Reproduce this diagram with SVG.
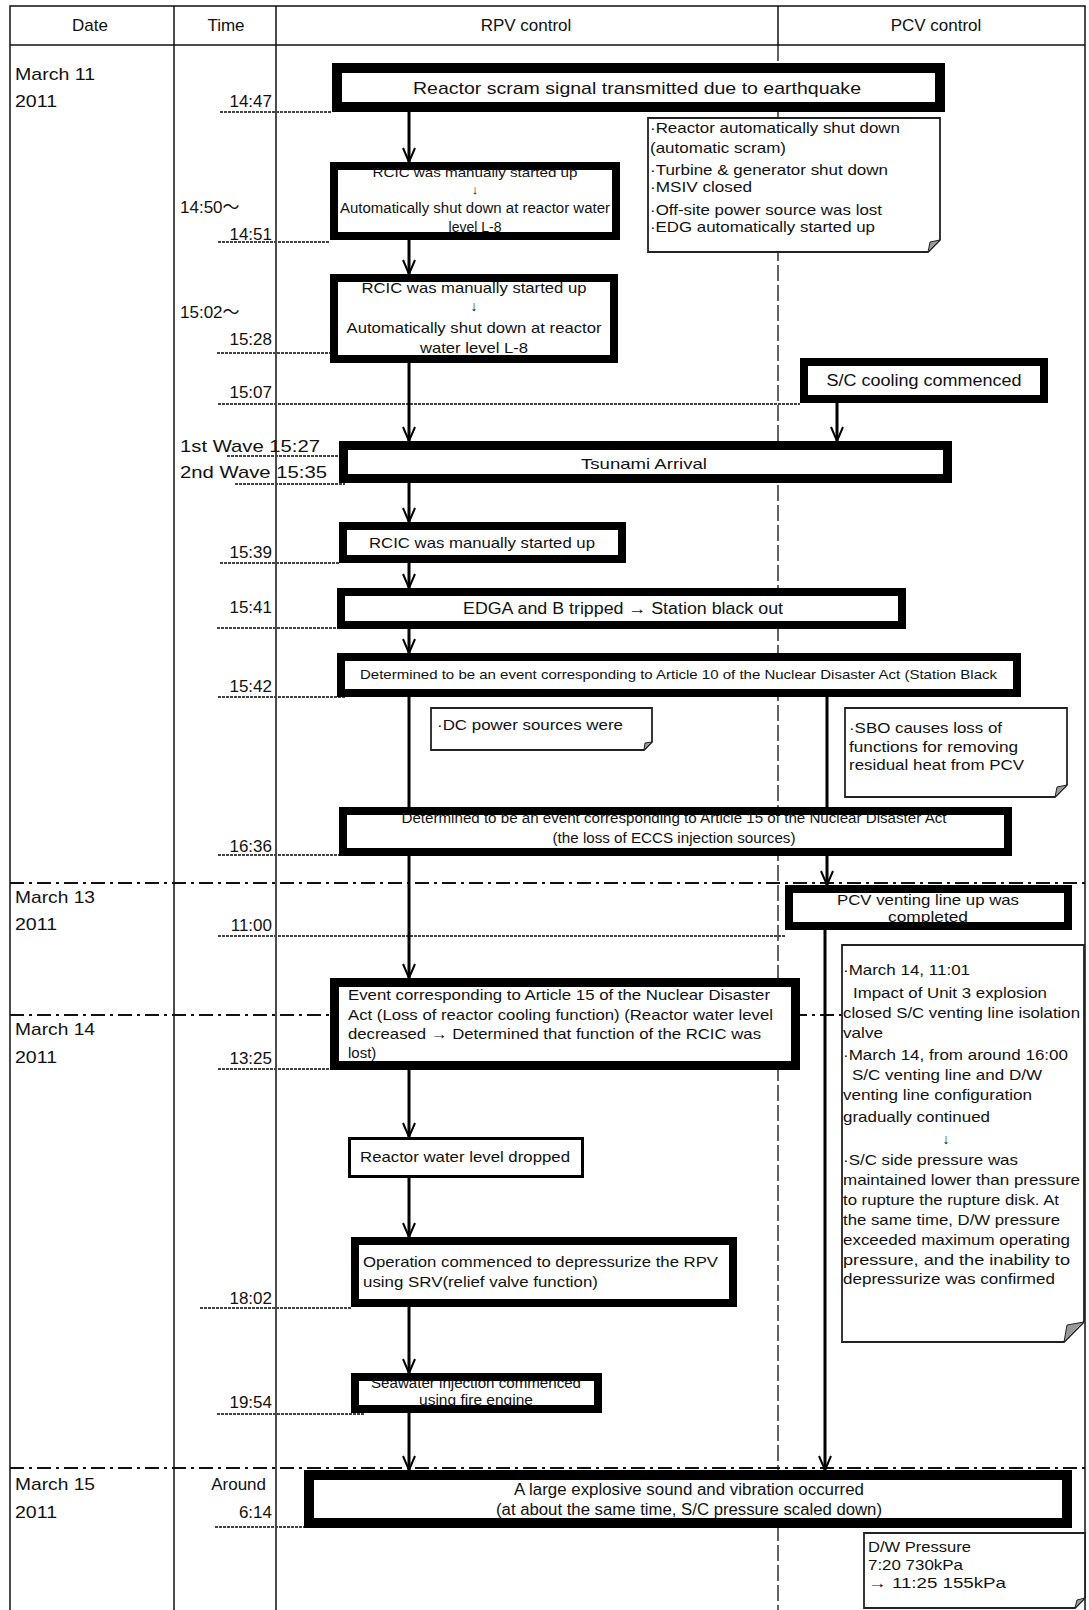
<svg xmlns="http://www.w3.org/2000/svg" width="1089" height="1610" viewBox="0 0 1089 1610">
<style>
text{font-family:"Liberation Sans",Arial,"Noto Sans CJK JP",sans-serif;fill:#111}
.grid{stroke:#111;stroke-width:1.5;fill:none}
.div{stroke:#111;stroke-width:1.3;stroke-dasharray:16 4;fill:none}
.day{stroke:#111;stroke-width:2;stroke-dasharray:14 5 3 5;fill:none}
.ul{stroke:#444;stroke-width:2.2;stroke-dasharray:3 1;fill:none}
.box{fill:#fff;stroke:#000}
.note{fill:#fff;stroke:#222;stroke-width:1.8}
.curl{fill:#999;stroke:#222;stroke-width:1}
.arr{stroke:#000;stroke-width:3;fill:none}
.ln{stroke:#000;stroke-width:3;fill:none}
.c{text-anchor:middle}
.e{text-anchor:end}
.h{font-size:17px}
.tm{font-size:17px}
.s13{font-size:13px}
.s14{font-size:14px}
.s15{font-size:15px}
.s16{font-size:16px}
.s17{font-size:17px}
</style>
<defs>
<marker id="ah" viewBox="-16 -9 18 18" refX="0" refY="0" markerWidth="18" markerHeight="18" markerUnits="userSpaceOnUse" orient="auto" overflow="visible">
<path d="M-14,-6 L0,0 L-14,6" fill="none" stroke="#000" stroke-width="2"/>
</marker>
</defs>

<g id="table">
<rect x="10" y="6" width="1075" height="1610" class="grid"/>
<line x1="10" y1="45" x2="1085" y2="45" class="grid"/>
<line x1="174" y1="6" x2="174" y2="1610" class="grid"/>
<line x1="276" y1="6" x2="276" y2="1610" class="grid"/>
<line x1="778" y1="6" x2="778" y2="45" class="grid"/>
<line x1="778" y1="45" x2="778" y2="1610" class="div"/>
<line x1="10" y1="883" x2="1085" y2="883" class="day"/>
<line x1="10" y1="1015" x2="1085" y2="1015" class="day"/>
<line x1="10" y1="1468" x2="1085" y2="1468" class="day"/>
<text x="90" y="31" class="h c">Date</text>
<text x="226" y="31" class="h c">Time</text>
<text x="526" y="31" class="h c">RPV control</text>
<text x="936" y="31" class="h c">PCV control</text>
</g>

<g id="dates">
<text x="15" y="80" class="s17" textLength="80" lengthAdjust="spacingAndGlyphs">March 11</text>
<text x="15" y="107" class="s17" textLength="42" lengthAdjust="spacingAndGlyphs">2011</text>
<text x="15" y="903" class="s17" textLength="80" lengthAdjust="spacingAndGlyphs">March 13</text>
<text x="15" y="930" class="s17" textLength="42" lengthAdjust="spacingAndGlyphs">2011</text>
<text x="15" y="1035" class="s17" textLength="80" lengthAdjust="spacingAndGlyphs">March 14</text>
<text x="15" y="1063" class="s17" textLength="42" lengthAdjust="spacingAndGlyphs">2011</text>
<text x="15" y="1490" class="s17" textLength="80" lengthAdjust="spacingAndGlyphs">March 15</text>
<text x="15" y="1518" class="s17" textLength="42" lengthAdjust="spacingAndGlyphs">2011</text>
</g>

<g id="times">
<line x1="220" y1="112" x2="332" y2="112" class="ul"/>
<line x1="218" y1="242" x2="330" y2="242" class="ul"/>
<line x1="217" y1="353" x2="330" y2="353" class="ul"/>
<line x1="218" y1="404" x2="800" y2="404" class="ul"/>
<line x1="227" y1="456" x2="339" y2="456" class="ul"/>
<line x1="235" y1="484" x2="345" y2="484" class="ul"/>
<line x1="220" y1="563" x2="339" y2="563" class="ul"/>
<line x1="217" y1="628" x2="337" y2="628" class="ul"/>
<line x1="218" y1="697" x2="345" y2="697" class="ul"/>
<line x1="218" y1="855" x2="345" y2="855" class="ul"/>
<line x1="218" y1="936" x2="785" y2="936" class="ul"/>
<line x1="218" y1="1069" x2="330" y2="1069" class="ul"/>
<line x1="200" y1="1308" x2="351" y2="1308" class="ul"/>
<line x1="217" y1="1414" x2="365" y2="1414" class="ul"/>
<line x1="215" y1="1527" x2="304" y2="1527" class="ul"/>
<text x="272" y="107" class="tm e">14:47</text>
<text x="180" y="213" class="tm">14:50～</text>
<text x="272" y="240" class="tm e">14:51</text>
<text x="180" y="318" class="tm">15:02～</text>
<text x="272" y="345" class="tm e">15:28</text>
<text x="272" y="398" class="tm e">15:07</text>
<text x="180" y="452" class="tm" textLength="140" lengthAdjust="spacingAndGlyphs">1st Wave 15:27</text>
<text x="180" y="478" class="tm" textLength="147" lengthAdjust="spacingAndGlyphs">2nd Wave 15:35</text>
<text x="272" y="558" class="tm e">15:39</text>
<text x="272" y="613" class="tm e">15:41</text>
<text x="272" y="692" class="tm e">15:42</text>
<text x="272" y="852" class="tm e">16:36</text>
<text x="272" y="931" class="tm e">11:00</text>
<text x="272" y="1064" class="tm e">13:25</text>
<text x="272" y="1304" class="tm e">18:02</text>
<text x="272" y="1408" class="tm e">19:54</text>
<text x="266" y="1490" class="tm e">Around</text>
<text x="272" y="1518" class="tm e">6:14</text>
</g>

<g id="connectors">
<line x1="409" y1="112" x2="409" y2="162" class="arr" marker-end="url(#ah)"/>
<line x1="409" y1="240" x2="409" y2="274" class="arr" marker-end="url(#ah)"/>
<line x1="409" y1="363" x2="409" y2="441" class="arr" marker-end="url(#ah)"/>
<line x1="409" y1="483" x2="409" y2="522" class="arr" marker-end="url(#ah)"/>
<line x1="409" y1="563" x2="409" y2="588" class="arr" marker-end="url(#ah)"/>
<line x1="409" y1="629" x2="409" y2="653" class="arr" marker-end="url(#ah)"/>
<line x1="409" y1="697" x2="409" y2="807" class="ln"/>
<line x1="409" y1="856" x2="409" y2="978" class="arr" marker-end="url(#ah)"/>
<line x1="409" y1="1070" x2="409" y2="1137" class="arr" marker-end="url(#ah)"/>
<line x1="409" y1="1178" x2="409" y2="1237" class="arr" marker-end="url(#ah)"/>
<line x1="409" y1="1307" x2="409" y2="1373" class="arr" marker-end="url(#ah)"/>
<line x1="409" y1="1413" x2="409" y2="1470" class="arr" marker-end="url(#ah)"/>
<line x1="837" y1="403" x2="837" y2="441" class="arr" marker-end="url(#ah)"/>
<line x1="827" y1="697" x2="827" y2="885" class="arr" marker-end="url(#ah)"/>
<line x1="825" y1="930" x2="825" y2="1470" class="arr" stroke-width="4" marker-end="url(#ah)"/>
</g>

<g id="n-scram">
<rect x="337" y="68" width="603" height="39" class="box" stroke-width="10"/>
<text x="637" y="94" class="s17 c" textLength="448" lengthAdjust="spacingAndGlyphs">Reactor scram signal transmitted due to earthquake</text>
</g>

<g id="n-note1">
<path d="M648,118 H940 V240 L928,252 H648 Z" class="note"/>
<path d="M940,240 L928,252 L930,242 Z" class="curl"/>
<text x="650" y="133" class="s15" textLength="250" lengthAdjust="spacingAndGlyphs">·Reactor automatically shut down</text>
<text x="650" y="153" class="s15" textLength="136" lengthAdjust="spacingAndGlyphs">(automatic scram)</text>
<text x="650" y="175" class="s15" textLength="238" lengthAdjust="spacingAndGlyphs">·Turbine &amp; generator shut down</text>
<text x="650" y="192" class="s15" textLength="102" lengthAdjust="spacingAndGlyphs">·MSIV closed</text>
<text x="650" y="215" class="s15" textLength="232" lengthAdjust="spacingAndGlyphs">·Off-site power source was lost</text>
<text x="650" y="232" class="s15" textLength="225" lengthAdjust="spacingAndGlyphs">·EDG automatically started up</text>
</g>

<g id="n-rcic1">
<rect x="334" y="166" width="282" height="70" class="box" stroke-width="8"/>
<text x="475" y="177" class="s13 c" textLength="205" lengthAdjust="spacingAndGlyphs">RCIC was manually started up</text>
<text x="475" y="194" class="s13 c">↓</text>
<text x="475" y="213" class="s14 c" textLength="270" lengthAdjust="spacingAndGlyphs">Automatically shut down at reactor water</text>
<text x="475" y="232" class="s14 c">level L-8</text>
</g>

<g id="n-rcic2">
<rect x="334" y="278" width="280" height="81" class="box" stroke-width="8"/>
<text x="474" y="293" class="s15 c" textLength="225" lengthAdjust="spacingAndGlyphs">RCIC was manually started up</text>
<text x="474" y="311" class="s14 c">↓</text>
<text x="474" y="333" class="s15 c" textLength="255" lengthAdjust="spacingAndGlyphs">Automatically shut down at reactor</text>
<text x="474" y="353" class="s15 c" textLength="108" lengthAdjust="spacingAndGlyphs">water level L-8</text>
</g>

<g id="n-sc">
<rect x="804" y="362" width="240" height="37" class="box" stroke-width="8"/>
<text x="924" y="386" class="s16 c" textLength="195" lengthAdjust="spacingAndGlyphs">S/C cooling commenced</text>
</g>

<g id="n-tsunami">
<rect x="343.5" y="445.5" width="604" height="33" class="box" stroke-width="9"/>
<text x="644" y="469" class="s15 c" textLength="126" lengthAdjust="spacingAndGlyphs">Tsunami Arrival</text>
</g>

<g id="n-rcic3">
<rect x="343" y="526" width="279" height="33" class="box" stroke-width="8"/>
<text x="482" y="548" class="s15 c" textLength="226" lengthAdjust="spacingAndGlyphs">RCIC was manually started up</text>
</g>

<g id="n-edg">
<rect x="341" y="592" width="561" height="33" class="box" stroke-width="8"/>
<text x="623" y="614" class="s16 c" textLength="320" lengthAdjust="spacingAndGlyphs">EDGA and B tripped → Station black out</text>
</g>

<g id="n-art10">
<rect x="341" y="657" width="676" height="36" class="box" stroke-width="8"/>
<text x="360" y="679" class="s13" textLength="637" lengthAdjust="spacingAndGlyphs">Determined to be an event corresponding to Article 10 of the Nuclear Disaster Act (Station Black</text>
</g>

<g id="n-dc">
<path d="M431,708 H652 V742 L644,750 H431 Z" class="note"/>
<path d="M652,742 L644,750 L645,743 Z" class="curl"/>
<text x="437" y="730" class="s15" textLength="186" lengthAdjust="spacingAndGlyphs">·DC power sources were</text>
</g>

<g id="n-sbo">
<path d="M845,708 H1067 V785 L1055,797 H845 Z" class="note"/>
<path d="M1067,785 L1055,797 L1057,787 Z" class="curl"/>
<text x="849" y="733" class="s15" textLength="153" lengthAdjust="spacingAndGlyphs">·SBO causes loss of</text>
<text x="849" y="752" class="s15" textLength="169" lengthAdjust="spacingAndGlyphs">functions for removing</text>
<text x="849" y="770" class="s15" textLength="175" lengthAdjust="spacingAndGlyphs">residual heat from PCV</text>
</g>

<g id="n-art15">
<rect x="343" y="811" width="665" height="41" class="box" stroke-width="8"/>
<text x="674" y="823" class="s14 c" textLength="545" lengthAdjust="spacingAndGlyphs">Determined to be an event corresponding to Article 15 of the Nuclear Disaster Act</text>
<text x="674" y="843" class="s14 c" textLength="243" lengthAdjust="spacingAndGlyphs">(the loss of ECCS injection sources)</text>
</g>

<g id="n-vent">
<rect x="789" y="889" width="279" height="37" class="box" stroke-width="8"/>
<text x="928" y="905" class="s15 c" textLength="182" lengthAdjust="spacingAndGlyphs">PCV venting line up was</text>
<text x="928" y="922" class="s15 c" textLength="80" lengthAdjust="spacingAndGlyphs">completed</text>
</g>

<g id="n-note-pcv">
<path d="M842,945 H1084 V1322 L1064,1342 H842 Z" class="note"/>
<path d="M1084,1322 L1064,1342 L1067,1325 Z" class="curl"/>
<text x="843" y="975" class="s15" textLength="127" lengthAdjust="spacingAndGlyphs">·March 14, 11:01</text>
<text x="853" y="998" class="s15" textLength="194" lengthAdjust="spacingAndGlyphs">Impact of Unit 3 explosion</text>
<text x="843" y="1018" class="s15" textLength="237" lengthAdjust="spacingAndGlyphs">closed S/C venting line isolation</text>
<text x="843" y="1038" class="s15" textLength="40" lengthAdjust="spacingAndGlyphs">valve</text>
<text x="843" y="1060" class="s15" textLength="225" lengthAdjust="spacingAndGlyphs">·March 14, from around 16:00</text>
<text x="852" y="1080" class="s15" textLength="190" lengthAdjust="spacingAndGlyphs">S/C venting line and D/W</text>
<text x="843" y="1100" class="s15" textLength="189" lengthAdjust="spacingAndGlyphs">venting line configuration</text>
<text x="843" y="1122" class="s15" textLength="147" lengthAdjust="spacingAndGlyphs">gradually continued</text>
<text x="946" y="1144" class="s14 c">↓</text>
<text x="843" y="1165" class="s15" textLength="175" lengthAdjust="spacingAndGlyphs">·S/C side pressure was</text>
<text x="843" y="1185" class="s15" textLength="237" lengthAdjust="spacingAndGlyphs">maintained lower than pressure</text>
<text x="843" y="1205" class="s15" textLength="216" lengthAdjust="spacingAndGlyphs">to rupture the rupture disk. At</text>
<text x="843" y="1225" class="s15" textLength="217" lengthAdjust="spacingAndGlyphs">the same time, D/W pressure</text>
<text x="843" y="1245" class="s15" textLength="227" lengthAdjust="spacingAndGlyphs">exceeded maximum operating</text>
<text x="843" y="1265" class="s15" textLength="227" lengthAdjust="spacingAndGlyphs">pressure, and the inability to</text>
<text x="843" y="1284" class="s15" textLength="212" lengthAdjust="spacingAndGlyphs">depressurize was confirmed</text>
</g>

<g id="n-event">
<rect x="334.5" y="982.5" width="461" height="83" class="box" stroke-width="9"/>
<text x="348" y="1000" class="s15" textLength="422" lengthAdjust="spacingAndGlyphs">Event corresponding to Article 15 of the Nuclear Disaster</text>
<text x="348" y="1020" class="s15" textLength="425" lengthAdjust="spacingAndGlyphs">Act (Loss of reactor cooling function) (Reactor water level</text>
<text x="348" y="1039" class="s15" textLength="413" lengthAdjust="spacingAndGlyphs">decreased → Determined that function of the RCIC was</text>
<text x="348" y="1058" class="s15">lost)</text>
</g>

<g id="n-rwl">
<rect x="349.5" y="1138.5" width="233" height="38" class="box" stroke-width="3"/>
<text x="360" y="1162" class="s15" textLength="210" lengthAdjust="spacingAndGlyphs">Reactor water level dropped</text>
</g>

<g id="n-srv">
<rect x="355" y="1241" width="378" height="62" class="box" stroke-width="8"/>
<text x="363" y="1267" class="s15" textLength="355" lengthAdjust="spacingAndGlyphs">Operation commenced to depressurize the RPV</text>
<text x="363" y="1287" class="s15" textLength="235" lengthAdjust="spacingAndGlyphs">using SRV(relief valve function)</text>
</g>

<g id="n-seawater">
<rect x="355" y="1377" width="243" height="32" class="box" stroke-width="8"/>
<text x="476" y="1388" class="s14 c" textLength="210" lengthAdjust="spacingAndGlyphs">Seawater injection commenced</text>
<text x="476" y="1405" class="s14 c" textLength="114" lengthAdjust="spacingAndGlyphs">using fire engine</text>
</g>

<g id="n-explosion">
<rect x="309" y="1475" width="758" height="48" class="box" stroke-width="10"/>
<text x="689" y="1495" class="s16 c" textLength="350" lengthAdjust="spacingAndGlyphs">A large explosive sound and vibration occurred</text>
<text x="689" y="1515" class="s16 c" textLength="386" lengthAdjust="spacingAndGlyphs">(at about the same time, S/C pressure scaled down)</text>
</g>

<g id="n-dw">
<path d="M864,1533 H1085 V1598 L1075,1608 H864 Z" class="note"/>
<path d="M1085,1598 L1075,1608 L1077,1600 Z" class="curl"/>
<text x="868" y="1552" class="s15" textLength="103" lengthAdjust="spacingAndGlyphs">D/W Pressure</text>
<text x="868" y="1570" class="s15" textLength="95" lengthAdjust="spacingAndGlyphs">7:20 730kPa</text>
<text x="868" y="1588" class="s15" textLength="138" lengthAdjust="spacingAndGlyphs">→ 11:25  155kPa</text>
</g>
</svg>
